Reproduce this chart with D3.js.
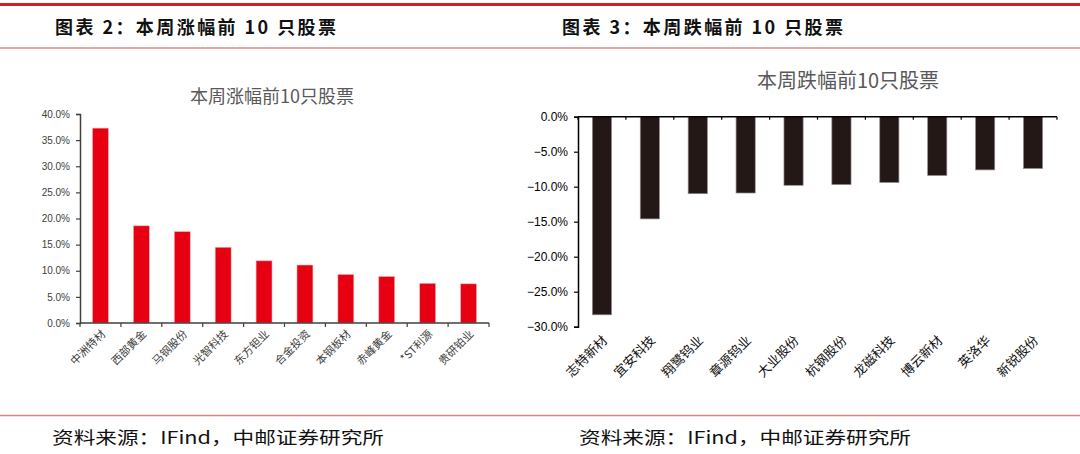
<!DOCTYPE html>
<html><head><meta charset="utf-8">
<script src="https://cdn.jsdelivr.net/npm/d3@7"></script>
<style>
html,body{margin:0;padding:0;background:#fff;}
svg{display:block;}
</style></head>
<body>
<svg id="c" width="1080" height="454"></svg>
<script>
// ---- data ----
const gainCategories = ["中洲特材","西部黄金","马钢股份","光智科技","东方钽业","合金投资","本钢板材","赤峰黄金","*ST利源","贵研铂业"];
const gainValues = [0.373,0.186,0.175,0.145,0.119,0.111,0.093,0.089,0.076,0.075];
const gainTicks = [0,0.05,0.10,0.15,0.20,0.25,0.30,0.35,0.40];

const lossCategories = ["志特新材","宜安科技","翔鹭钨业","章源钨业","大业股份","杭钢股份","龙磁科技","博云新材","英洛华","新锐股份"];
const lossValues = [-0.283,-0.146,-0.110,-0.109,-0.098,-0.097,-0.094,-0.084,-0.076,-0.074];
const lossTicks = [0,-0.05,-0.10,-0.15,-0.20,-0.25,-0.30];

const panelTitles = ["图表 2：本周涨幅前 10 只股票","图表 3：本周跌幅前 10 只股票"];
const chartTitles = ["本周涨幅前10只股票","本周跌幅前10只股票"];
const sourceText = "资料来源：IFind，中邮证券研究所";

const svg = d3.select("#c");
const CJK = "'Noto Sans CJK SC','Noto Sans',sans-serif";
const fmt = d3.format(".1%");

// frame lines
svg.append("line").attr("x1",0).attr("x2",1080).attr("y1",4.5).attr("y2",4.5)
  .attr("stroke","#d21f26").attr("stroke-width",3);
svg.append("line").attr("x1",0).attr("x2",1080).attr("y1",48).attr("y2",48)
  .attr("stroke","#e08585").attr("stroke-width",1.5);
svg.append("line").attr("x1",0).attr("x2",1080).attr("y1",415.5).attr("y2",415.5)
  .attr("stroke","#e08585").attr("stroke-width",1.5);

// panel titles
[[55,panelTitles[0]],[562,panelTitles[1]]].forEach(([x,t])=>{
  svg.append("text").attr("x",x).attr("y",34).text(t)
    .attr("font-family",CJK).attr("font-weight",700).attr("font-size",18)
    .attr("fill","#111").attr("textLength",281).attr("lengthAdjust","spacing");
});
// source
[[52,sourceText],[579,sourceText]].forEach(([x,t])=>{
  svg.append("text").attr("x",x).attr("y",444).text(t)
    .attr("font-family",CJK).attr("font-size",17)
    .attr("fill","#111").attr("textLength",332).attr("lengthAdjust","spacingAndGlyphs");
});

// ---- left chart ----
{
  const g = svg.append("g");
  const x = d3.scaleBand().domain(gainCategories).range([80,489]).paddingInner(0.61).paddingOuter(0.305);
  const y = d3.scaleLinear().domain([0,0.40]).range([323,114]);
  g.append("text").attr("x",272).attr("y",103).attr("text-anchor","middle")
    .attr("font-family",CJK).attr("font-size",18).attr("fill","#595959").text(chartTitles[0]);
  g.selectAll("rect").data(gainValues).join("rect")
    .attr("x",(d,i)=>x(gainCategories[i])).attr("width",x.bandwidth())
    .attr("y",d=>y(d)).attr("height",d=>y(0)-y(d))
    .attr("fill","#e60012").attr("stroke","#f7b5b5").attr("stroke-width",0.6);
  const ya = g.append("g").attr("transform","translate(80,0)")
    .call(d3.axisLeft(y).tickValues(gainTicks).tickFormat(fmt).tickSize(4).tickPadding(6));
  ya.select(".domain").attr("stroke","#404040").attr("stroke-width",1.5);
  ya.selectAll(".tick line").attr("stroke","#404040").attr("stroke-width",1.2);
  ya.selectAll("text").attr("font-family","'Liberation Sans',Arial,sans-serif").attr("font-size",10).attr("fill","#404040");
  // x axis
  g.append("line").attr("x1",80).attr("x2",489).attr("y1",y(0)).attr("y2",y(0)).attr("stroke","#404040").attr("stroke-width",1.5);
  d3.range(gainCategories.length+1).forEach(i=>{
    const xx = x.range()[0]+i*x.step();
    g.append("line").attr("x1",xx).attr("x2",xx).attr("y1",y(0)).attr("y2",y(0)+4).attr("stroke","#404040").attr("stroke-width",1.2);
  });
  gainCategories.forEach(c=>{
    const cx = x(c)+x.bandwidth()/2+3, cy = y(0)+9;
    g.append("text").attr("transform",`translate(${cx},${cy}) rotate(-45)`)
      .attr("text-anchor","end").attr("dy","0.35em")
      .attr("font-family",CJK).attr("font-size",11).attr("fill","#404040").text(c);
  });
}

// ---- right chart ----
{
  const g = svg.append("g");
  const x = d3.scaleBand().domain(lossCategories).range([578,1057]).paddingInner(0.6).paddingOuter(0.3);
  const y = d3.scaleLinear().domain([-0.30,0]).range([326.7,116.7]);
  g.append("text").attr("x",848).attr("y",88).attr("text-anchor","middle")
    .attr("font-family",CJK).attr("font-size",20).attr("fill","#595959").text(chartTitles[1]);
  g.selectAll("rect").data(lossValues).join("rect")
    .attr("x",(d,i)=>x(lossCategories[i])).attr("width",x.bandwidth())
    .attr("y",y(0)).attr("height",d=>y(d)-y(0))
    .attr("fill","#231815").attr("stroke","#8c8c8c").attr("stroke-width",0.7);
  const ya = g.append("g").attr("transform","translate(578,0)")
    .call(d3.axisLeft(y).tickValues(lossTicks).tickFormat(fmt).tickSize(4).tickPadding(6));
  ya.select(".domain").attr("stroke","#000").attr("stroke-width",1.5);
  ya.selectAll(".tick line").attr("stroke","#000").attr("stroke-width",1.2);
  ya.selectAll("text").attr("font-family","'Liberation Sans',Arial,sans-serif").attr("font-size",12).attr("fill","#000");
  g.append("line").attr("x1",578).attr("x2",1057).attr("y1",y(0)).attr("y2",y(0)).attr("stroke","#000").attr("stroke-width",1.5);
  d3.range(lossCategories.length+1).forEach(i=>{
    const xx = x.range()[0]+i*x.step();
    g.append("line").attr("x1",xx).attr("x2",xx).attr("y1",y(0)).attr("y2",y(0)+3).attr("stroke","#000").attr("stroke-width",1.2);
  });
  lossCategories.forEach(c=>{
    const cx = x(c)+x.bandwidth()/2+3, cy = 338;
    g.append("text").attr("transform",`translate(${cx},${cy}) rotate(-45)`)
      .attr("text-anchor","end").attr("dy","0.35em")
      .attr("font-family",CJK).attr("font-size",13).attr("fill","#111").text(c);
  });
}
</script>
</body></html>
